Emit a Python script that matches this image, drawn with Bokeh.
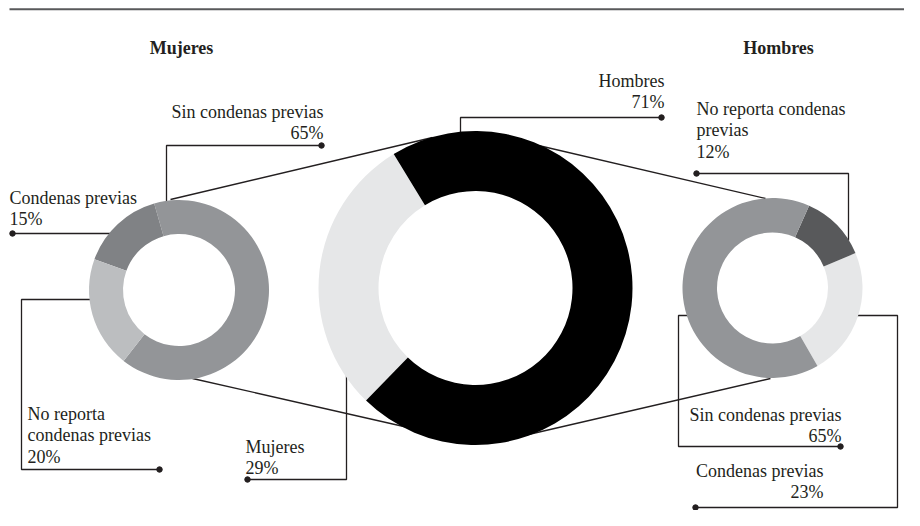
from bokeh.plotting import figure
from bokeh.models import Range1d
from bokeh.embed import file_html
from bokeh.resources import INLINE
from bokeh.core.properties import value

# ---------------- data ----------------
mujeres_cats = ["Sin condenas previas", "Condenas previas", "No reporta condenas previas"]
mujeres_vals = [65, 15, 20]
mujeres_colors = ["#939598", "#808285", "#bcbec0"]

total_cats = ["Mujeres", "Hombres"]
total_vals = [29, 71]
total_colors = ["#e6e7e8", "#000000"]

hombres_cats = ["Condenas previas", "No reporta condenas previas", "Sin condenas previas"]
hombres_vals = [23, 12, 65]
hombres_colors = ["#e6e7e8", "#58595b", "#939598"]

titles = ["Mujeres", "Hombres"]

# label lines (text part; percentages come from the values)
mujeres_label_lines = [["Sin condenas previas"], ["Condenas previas"], ["No reporta", "condenas previas"]]
total_label_lines = [["Mujeres"], ["Hombres"]]
hombres_label_lines = [["Condenas previas"], ["No reporta condenas", "previas"], ["Sin condenas previas"]]

# ---------------- layout helpers ----------------
W, H = 904, 510


def Y(sy):
    # screen y (from top) -> data y (up)
    return H - sy


p = figure(width=W, height=H, x_range=Range1d(0, W), y_range=Range1d(0, H),
           output_backend="svg", toolbar_location=None, min_border=0,
           x_axis_location=None, y_axis_location=None)
p.grid.visible = False
p.outline_line_color = None
p.background_fill_color = "white"

INK = "#231f20"
FONT = value("Liberation Serif")
FS = "18px"
LH = 21.5


def donut(cx, cy, r_in, r_out, start, vals, colors):
    a0 = []
    a1 = []
    a = start
    for v in vals:
        a0.append(a)
        a += v / sum(vals) * 360.0
        a1.append(a)
    p.annular_wedge(x=[cx] * len(vals), y=[Y(cy)] * len(vals), inner_radius=r_in, outer_radius=r_out,
                    start_angle=a0, end_angle=a1, start_angle_units="deg", end_angle_units="deg",
                    fill_color=colors, line_color=None)


def poly(pts, dot=None):
    p.line([q[0] for q in pts], [Y(q[1]) for q in pts], line_color=INK, line_width=1.3)
    if dot is not None:
        p.scatter([dot[0]], [Y(dot[1])], size=5.5, color=INK)


def label(x, y0, lines, align):
    ys = [Y(y0 + i * LH) for i in range(len(lines))]
    p.text(x=[x] * len(lines), y=ys, text=lines, text_font=FONT, text_font_size=FS,
           text_align=align, text_baseline="alphabetic", text_color=INK)


# top rule
p.line([9, W], [Y(8.7), Y(8.7)], line_color="#58595b", line_width=2)

# connector lines between donuts
poly([(170, 199), (432, 137)])
poly([(538, 145), (765, 198)])
poly([(192, 378), (412, 428)])
poly([(528, 434), (770, 378)])

# leader lines
poly([(166, 205), (166, 145), (321, 145)], dot=(321, 145))
poly([(112, 233), (12, 233)], dot=(12, 233))
poly([(95, 299), (21, 299), (21, 469), (159, 469)], dot=(159, 469))
poly([(460, 140), (460, 117), (661, 117)], dot=(661, 117))
poly([(346, 370), (346, 479), (247, 479)], dot=(247, 479))
poly([(696, 173), (848, 173), (848, 240)], dot=(696, 173))
poly([(690, 315), (678, 315), (678, 446), (840, 446)], dot=(840, 446))
poly([(852, 315), (897, 315), (897, 507), (695, 507)], dot=(695, 507))

# donuts
donut(178.5, 289.5, 56, 90, -128.0, mujeres_vals, mujeres_colors)
donut(475, 287.5, 97, 157, 121.4, total_vals, total_colors)
donut(772, 287.5, 55.5, 90, -60.0, hombres_vals, hombres_colors)

# titles
p.text(x=[181, 778], y=[Y(47), Y(47)], text=titles, text_font=FONT, text_font_size=FS,
       text_font_style="bold", text_align="center", text_baseline="alphabetic", text_color=INK)

# labels
label(323, 111, mujeres_label_lines[0] + [f"{mujeres_vals[0]}%"], "right")
label(9, 197, mujeres_label_lines[1] + [f"{mujeres_vals[1]}%"], "left")
label(27, 413, mujeres_label_lines[2] + [f"{mujeres_vals[2]}%"], "left")
label(664, 80, total_label_lines[1] + [f"{total_vals[1]}%"], "right")
label(245, 446, total_label_lines[0] + [f"{total_vals[0]}%"], "left")
label(696, 108, hombres_label_lines[1] + [f"{hombres_vals[1]}%"], "left")
label(841, 414, hombres_label_lines[2] + [f"{hombres_vals[2]}%"], "right")
label(823, 470, hombres_label_lines[0] + [f"{hombres_vals[0]}%"], "right")

open("out.html", "w").write(file_html(p, INLINE))
